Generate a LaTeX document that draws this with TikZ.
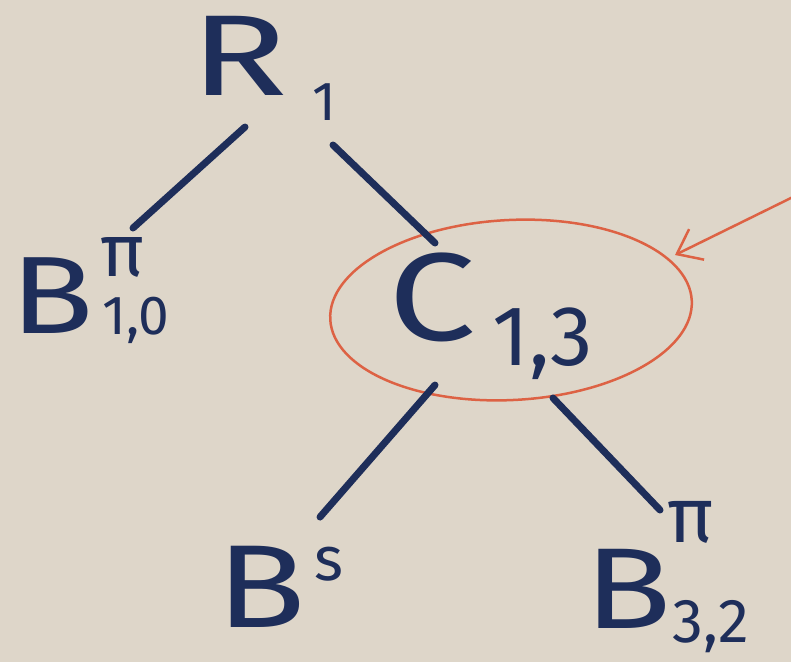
\documentclass[tikz,border=0pt]{standalone}
\usepackage{fontspec}
\usepackage{graphicx}
\setmainfont{Fira Sans}
\usetikzlibrary{arrows.meta,shapes.geometric}
\definecolor{paper}{RGB}{222,214,201}
\definecolor{ink}{RGB}{30,46,90}
\definecolor{redink}{RGB}{221,98,68}
\newcommand{\fs}[1]{\fontsize{#1}{#1}\selectfont}
\newcommand{\wide}[2]{\scalebox{#1}[1]{#2}}
\begin{document}
\begin{tikzpicture}[x=1pt,y=-1pt,
  lbl/.style={text=ink, inner sep=0pt, anchor=base west},
  edge/.style={draw=ink, line width=7pt, line cap=round},
  ring/.style={draw=redink, line width=2.5pt, ellipse},
  pointer/.style={draw=redink, line width=2.5pt, line cap=round,
    -{Straight Barb[length=22pt,width=34pt,line width=2.5pt]}}]
\fill[paper] (0,0) rectangle (791,662);
\useasboundingbox (0,0) rectangle (791,662);
% root
\node[lbl, font=\fs{115}] (r) at (190,95) {\wide{1.4}{R}};
\node[lbl, font=\fs{55}] (rsub) at (312,120) {1};
% left leaf
\node[lbl, font=\fs{110}] (b10) at (10,333) {\wide{1.25}{B}};
\node[lbl, font=\fs{74}] (b10sup) at (100,276) {π};
\node[lbl, font=\fs{55}] (b10sub) at (102,334) {1,0};
% middle
\node[lbl, font=\fs{125}] (c) at (388,340) {\wide{1.25}{C}};
\node[lbl, font=\fs{85}] (csub) at (492,365) {1,3};
\node[ring, minimum width=362pt, minimum height=180pt, rotate=3] (ringnode) at (511,310) {};
% bottom leaves
\node[lbl, font=\fs{118}] (bs) at (216,627) {\wide{1.25}{B}};
\node[lbl, font=\fs{62}] (bssup) at (314,580) {s};
\node[lbl, font=\fs{115}] (b32) at (584,628) {\wide{1.25}{B}};
\node[lbl, font=\fs{78}] (b32sup) at (667,542) {π};
\node[lbl, font=\fs{62}] (b32sub) at (672,642) {3,2};
% connector ends
\coordinate (r-l) at (245,127);
\coordinate (b10-t) at (133,228);
\coordinate (r-r) at (333,145);
\coordinate (c-t) at (435,243);
\coordinate (c-l) at (435,385);
\coordinate (bs-t) at (320,517);
\coordinate (c-r) at (553,398);
\coordinate (b32-t) at (660,510);
\coordinate (arr-s) at (795,196);
\coordinate (arr-e) at (675,255);
\draw[edge] (r-l) -- (b10-t);
\draw[edge] (r-r) -- (c-t);
\draw[edge] (c-l) -- (bs-t);
\draw[edge] (c-r) -- (b32-t);
\draw[pointer] (arr-s) -- (arr-e);
\end{tikzpicture}
\end{document}
